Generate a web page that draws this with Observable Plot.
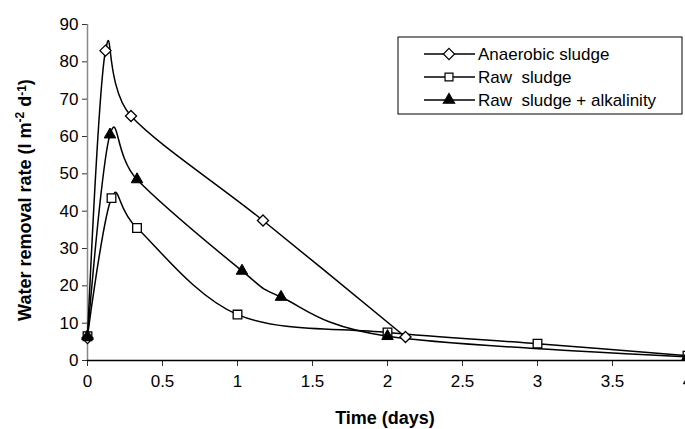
<!DOCTYPE html>
<html><head><meta charset="utf-8">
<script src="https://cdn.jsdelivr.net/npm/d3@7"></script>
<script src="https://cdn.jsdelivr.net/npm/@observablehq/plot@0.6"></script>
<style>body{margin:0;background:#fff} svg{display:block}</style>
</head><body><div id="chart"></div>
<script>
// Data
const seriesNames = ["Anaerobic sludge", "Raw  sludge", "Raw  sludge + alkalinity"];
const timeAnaerobic = [0, 0.12, 0.29, 1.17, 2.12];
const rateAnaerobic = [6, 83, 65.5, 37.5, 6.3];
const timeRaw = [0, 0.16, 0.33, 1.0, 2.0, 3.0, 4.0];
const rateRaw = [6.5, 43.5, 35.5, 12.3, 7.5, 4.5, 1.3];
const timeAlk = [0, 0.15, 0.33, 1.03, 1.29, 2.0, 4.0];
const rateAlk = [6.5, 60.5, 48.5, 24, 17, 6.5, 1.0];
const xTicks = [0, 0.5, 1, 1.5, 2, 2.5, 3, 3.5, 4];
const yTicks = [0, 10, 20, 30, 40, 50, 60, 70, 80, 90];

const toRows = (ts, vs, s) => ts.map((t, i) => ({t, v: vs[i], s}));
const anaerobic = toRows(timeAnaerobic, rateAnaerobic, seriesNames[0]);
const raw = toRows(timeRaw, rateRaw, seriesNames[1]);
const alk = toRows(timeAlk, rateAlk, seriesNames[2]);

const font = "'Liberation Sans', Arial, sans-serif";
const lineOpts = {x: "t", y: "v", curve: "cardinal", tension: 0, stroke: "#000", strokeWidth: 1.5};

const chart = Plot.plot({
  width: 685, height: 429,
  marginLeft: 87, marginRight: 0, marginTop: 24, marginBottom: 69,
  style: {fontFamily: font, fontSize: "17px", background: "#fff", color: "#000", overflow: "hidden"},
  x: {domain: [0, 4], range: [87, 687], label: null},
  y: {domain: [0, 90], range: [360, 24], label: null},
  marks: [
    Plot.axisY({ticks: yTicks, tickSize: 5, tickPadding: 4, stroke: "#333", fontSize: 17}),
    Plot.axisX({ticks: xTicks, tickSize: 6, tickPadding: 8, stroke: "#333", fontSize: 17, tickFormat: d => String(d)}),
    Plot.ruleX([0], {stroke: "#888", strokeWidth: 1.5}),
    Plot.ruleY([0], {stroke: "#000", strokeWidth: 1.5}),
    Plot.line(anaerobic, lineOpts),
    Plot.line(raw, lineOpts),
    Plot.line(alk, lineOpts),
    Plot.dot(anaerobic, {x: "t", y: "v", symbol: "diamond2", r: 5, fill: "#fff", stroke: "#000", strokeWidth: 1.3}),
    Plot.dot(raw, {x: "t", y: "v", symbol: "square2", r: 5.5, fill: "#fff", stroke: "#000", strokeWidth: 1.3}),
    Plot.dot(alk, {x: "t", y: "v", symbol: "triangle2", r: 5.5, fill: "#000", stroke: "#000", strokeWidth: 1})
  ]
});
document.getElementById("chart").appendChild(chart);

const svg = d3.select(chart);
// Legend
const lg = svg.append("g").attr("text-anchor", "start");
lg.append("rect").attr("x", 398).attr("y", 37).attr("width", 284).attr("height", 77)
  .attr("fill", "#fff").attr("stroke", "#000").attr("stroke-width", 1);
const legendSymbols = [
  {sym: d3.symbolDiamond2, fill: "#fff", size: 80},
  {sym: d3.symbolSquare2, fill: "#fff", size: 80},
  {sym: d3.symbolTriangle2, fill: "#000", size: 90}
];
seriesNames.forEach((name, i) => {
  const y = 54 + i * 23;
  lg.append("line").attr("x1", 424).attr("x2", 475).attr("y1", y).attr("y2", y)
    .attr("stroke", "#000").attr("stroke-width", 1.5);
  lg.append("path").attr("d", d3.symbol(legendSymbols[i].sym, legendSymbols[i].size)())
    .attr("transform", `translate(449,${y})`).attr("fill", legendSymbols[i].fill)
    .attr("stroke", "#000").attr("stroke-width", 1.2);
  lg.append("text").attr("x", 478).attr("y", y).attr("dy", "0.35em").attr("text-anchor", "start")
    .attr("font-family", font).attr("font-size", 17).attr("fill", "#000")
    .style("white-space", "pre").text(name);
});
// Axis titles
svg.append("text").attr("x", 385).attr("y", 424).attr("text-anchor", "middle")
  .attr("font-family", font).attr("font-size", 18).attr("font-weight", "bold").attr("fill", "#000")
  .text("Time (days)");
const yt = svg.append("text").attr("transform", "translate(31,200) rotate(-90)").attr("text-anchor", "middle")
  .attr("font-family", font).attr("font-size", 18).attr("font-weight", "bold").attr("fill", "#000");
yt.append("tspan").text("Water removal rate (l m");
yt.append("tspan").attr("font-size", 12).attr("dy", "-0.6em").text("-2");
yt.append("tspan").attr("dy", "0.4em").text(" d");
yt.append("tspan").attr("font-size", 12).attr("dy", "-0.4em").text("-1");
yt.append("tspan").attr("dy", "0.27em").text(")");
</script></body></html>
